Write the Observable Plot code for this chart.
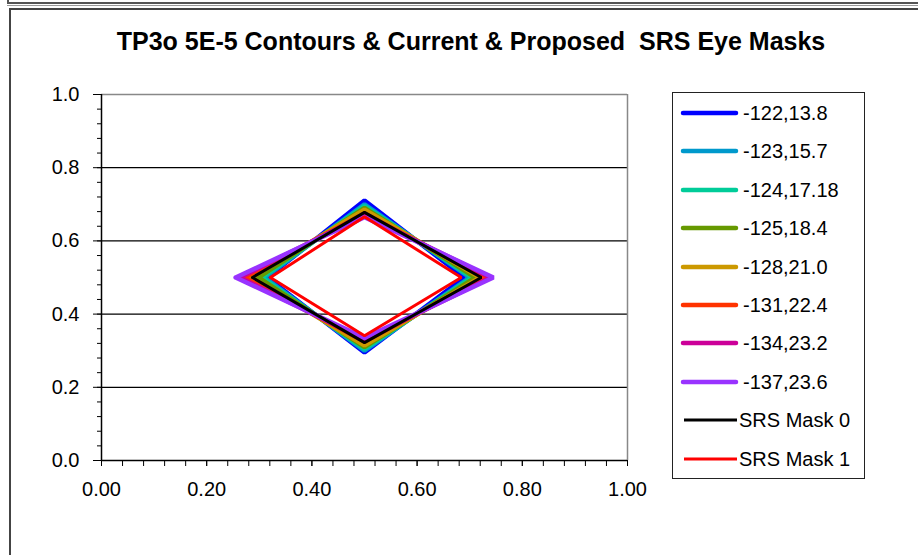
<!DOCTYPE html>
<html><head><meta charset="utf-8">
<script src="https://cdn.jsdelivr.net/npm/d3@7"></script>
<script src="https://cdn.jsdelivr.net/npm/@observablehq/plot@0.6"></script>
<style>
html,body{margin:0;padding:0;background:#fff;}
body{width:918px;height:555px;overflow:hidden;position:relative;font-family:"Liberation Sans",Arial,sans-serif;color:#000;}
.abs{position:absolute;}
#title{left:21px;width:900px;top:26px;text-align:center;font-weight:bold;font-size:25px;line-height:30px;white-space:nowrap;}
#legend{left:672px;top:92px;width:191px;height:385px;border:1.5px solid #222;background:#fff;}
.row{position:absolute;left:0;height:30px;}
.row span{position:absolute;top:0;line-height:30px;font-size:20px;white-space:nowrap;}
</style></head><body>
<div class="abs" style="left:7px;top:0;width:2px;height:4px;background:#555"></div>
<div class="abs" style="left:7px;top:2px;width:911px;height:2px;background:#555"></div>
<div class="abs" style="left:7px;top:5px;width:911px;height:1px;background:#999"></div>
<div class="abs" style="left:9px;top:8px;width:909px;height:2px;background:#444"></div>
<div class="abs" style="left:9px;top:8px;width:2px;height:547px;background:#444"></div>
<div id="title" class="abs">TP3o 5E-5 Contours &amp; Current &amp; Proposed&nbsp; SRS Eye Masks</div>
<div id="plot" class="abs" style="left:0;top:0;"></div>
<div id="legend" class="abs"></div>
<script>
// Series (legend order = draw order)
const seriesNames = ["-122,13.8", "-123,15.7", "-124,17.18", "-125,18.4", "-128,21.0", "-131,22.4", "-134,23.2", "-137,23.6", "SRS Mask 0", "SRS Mask 1"];
const seriesColors = ["#0000FF", "#0099CC", "#00CC99", "#669900", "#CC9900", "#FF3300", "#CC0099", "#9933FF", "#000000", "#FF0000"];
const isMask = [false, false, false, false, false, false, false, false, true, true];
// Eye diamond vertices: left / right x at y = centre, top / bottom y at x = centre
const eyeCenterX = 0.5;
const eyeCenterY = 0.5;
const eyeLeft   = [0.315, 0.310, 0.305, 0.298, 0.285, 0.272, 0.263, 0.255, 0.287, 0.321];
const eyeRight  = [0.690, 0.700, 0.705, 0.711, 0.720, 0.730, 0.740, 0.745, 0.722, 0.684];
const eyeTop    = [0.710, 0.700, 0.695, 0.690, 0.685, 0.675, 0.670, 0.665, 0.678, 0.666];
const eyeBottom = [0.295, 0.300, 0.305, 0.310, 0.315, 0.325, 0.330, 0.335, 0.322, 0.341];
// Axis ticks
const xTickLabels = [0, 0.2, 0.4, 0.6, 0.8, 1.0];
const yTickLabels = [0, 0.2, 0.4, 0.6, 0.8, 1.0];
const gridValues = [0.2, 0.4, 0.6, 0.8];
const minorTicks = [0,0.04,0.08,0.12,0.16,0.2,0.24,0.28,0.32,0.36,0.4,0.44,0.48,0.52,0.56,0.6,0.64,0.68,0.72,0.76,0.8,0.84,0.88,0.92,0.96,1.0];

const rows = [];
seriesNames.forEach((name, i) => {
  const pts = [[eyeLeft[i], eyeCenterY], [eyeCenterX, eyeTop[i]], [eyeRight[i], eyeCenterY], [eyeCenterX, eyeBottom[i]], [eyeLeft[i], eyeCenterY]];
  pts.forEach(([x, y]) => rows.push({series: name, mask: isMask[i], x, y}));
});
const contourRows = rows.filter(d => !d.mask);
const maskRows = rows.filter(d => d.mask);

const chart = Plot.plot({
  width: 660, height: 520,
  marginLeft: 101, marginRight: 33, marginTop: 94, marginBottom: 60,
  x: {domain: [0, 1]},
  y: {domain: [0, 1]},
  color: {domain: seriesNames, range: seriesColors},
  style: {fontFamily: "'Liberation Sans', Arial, sans-serif", fontSize: "20px", color: "#000", background: "transparent", overflow: "visible"},
  marks: [
    Plot.ruleY(gridValues, {stroke: "#000", strokeWidth: 1.2}),
    Plot.ruleY([1], {stroke: "#888", strokeWidth: 1.5}),
    Plot.ruleX([1], {stroke: "#888", strokeWidth: 1.5}),
    Plot.axisY(minorTicks, {tickSize: 4, tickFormat: () => "", label: null, stroke: "#000"}),
    Plot.axisY(yTickLabels, {tickSize: 8, tickPadding: 14, tickFormat: d3.format(".1f"), label: null, fontSize: 20, stroke: "#000"}),
    Plot.axisX(minorTicks, {tickSize: 6, tickFormat: () => "", label: null, stroke: "#000"}),
    Plot.axisX(xTickLabels, {tickSize: 6, tickPadding: 15, tickFormat: d3.format(".2f"), label: null, fontSize: 20, stroke: "#000"}),
    Plot.ruleX([0], {stroke: "#000", strokeWidth: 1.5}),
    Plot.ruleY([0], {stroke: "#000", strokeWidth: 1.5}),
    Plot.line(contourRows, {x: "x", y: "y", z: "series", stroke: "series", strokeWidth: 4.5, strokeLinejoin: "miter", curve: "linear"}),
    Plot.line(maskRows, {x: "x", y: "y", z: "series", stroke: "series", strokeWidth: 3, strokeLinejoin: "miter", curve: "linear"})
  ]
});
document.getElementById("plot").appendChild(chart);

// Legend
const legend = document.getElementById("legend");
const rowStep = 38.4;
seriesNames.forEach((name, i) => {
  const row = document.createElement("div");
  row.className = "row";
  row.style.top = (20 + i * rowStep - 15) + "px";
  row.style.width = "190px";
  const x1 = isMask[i] ? 11 : 10, x2 = isMask[i] ? 64 : 63;
  const sw = isMask[i] ? 3 : 4.5;
  row.innerHTML = `<svg width="70" height="30" style="position:absolute;left:0;top:0"><line x1="${x1}" x2="${x2}" y1="15" y2="15" stroke="${seriesColors[i]}" stroke-width="${sw}" stroke-linecap="${isMask[i] ? 'butt' : 'round'}"/></svg><span style="left:${isMask[i] ? 66 : 70}px">${name}</span>`;
  legend.appendChild(row);
});
</script>
</body></html>
